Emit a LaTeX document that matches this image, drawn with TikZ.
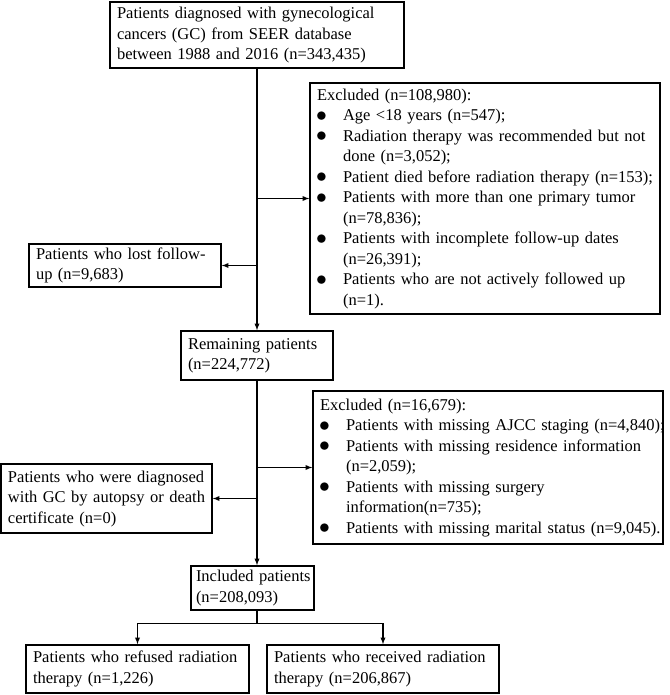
\documentclass[tikz,border=0pt]{standalone}
\usepackage{fontspec}
\setmainfont{Liberation Serif}
\usepackage{tikz}
\usetikzlibrary{positioning}
\newcommand{\boxlines}[1]{\begin{tabular}{@{}l@{}}#1\end{tabular}}
\newcommand{\bul}{\makebox[26pt][l]{\hspace{-1pt}\raisebox{-0.8pt}{\scalebox{1.25}{$\bullet$}}}}
\newcommand{\ind}{\hspace*{26pt}}

\begin{document}
\begin{tikzpicture}[x=1pt, y=1pt, >=latex,
  every node/.style={font=\fontsize{16.5}{20.5}\selectfont},
  box/.style={draw, rectangle, line width=1.4pt, inner xsep=7pt, inner ysep=0pt, align=left},
  link/.style={->, line width=1.3pt}]
\useasboundingbox (0,0) rectangle (669,695);
\node at (257,660) [box, name=Source, text width=280pt, minimum height=66pt]{\boxlines{Patients diagnosed with gynecological\\cancers (GC) from SEER database\\between 1988 and 2016 (n=343,435)}};
\node at (485,496.5) [box, name=Excluded1, text width=336pt, minimum height=231pt]{\boxlines{Excluded (n=108,980):\\
\bul Age <18 years (n=547);\\
\bul Radiation therapy was recommended but not\\
\ind done (n=3,052);\\
\bul Patient died before radiation therapy (n=153);\\
\bul Patients with more than one primary tumor\\
\ind (n=78,836);\\
\bul Patients with incomplete follow-up dates\\
\ind (n=26,391);\\
\bul Patients who are not actively followed up\\
\ind (n=1).}};
\node at (125,429.5) [box, name=LostFollow, text width=178pt, minimum height=43pt]{\boxlines{Patients who lost follow-\\up (n=9,683)}};
\node at (257,339.5) [box, name=Remaining, text width=138pt, minimum height=49pt]{\boxlines{Remaining patients\\(n=224,772)}};
\node at (488,227.5) [box, name=Excluded2, text width=336pt, minimum height=153pt]{\boxlines{Excluded (n=16,679):\\
\bul Patients with missing AJCC staging (n=4,840);\\
\bul Patients with missing residence information\\
\ind (n=2,059);\\
\bul Patients with missing surgery\\
\ind information(n=735);\\
\bul Patients with missing marital status (n=9,045).}};
\node at (106.5,196.5) [box, name=Autopsy, text width=197pt, minimum height=69pt]{\boxlines{Patients who were diagnosed\\with GC by autopsy or death\\certificate (n=0)}};
\node at (252.5,107) [box, name=Included, text width=113pt, inner xsep=5pt, minimum height=44pt]{\boxlines{Included patients\\(n=208,093)}};
\node at (137.5,26) [box, name=Refused, text width=209pt, minimum height=48pt]{\boxlines{Patients who refused radiation\\therapy (n=1,226)}};
\node at (383,26) [box, name=Received, text width=218pt, minimum height=48pt]{\boxlines{Patients who received radiation\\therapy (n=206,867)}};
% main trunk
\draw [link] (Source) -- (Remaining);
\draw [link] (Excluded1.west -| Source.south) -- (Excluded1.west);
\draw [link] (LostFollow.east -| Source.south) -- (LostFollow.east);
\draw [link] (Remaining) -- (Remaining.south |- Included.north);
\draw [link] (Excluded2.west -| Remaining.south) -- (Excluded2.west);
\draw [link] (Autopsy.east -| Remaining.south) -- (Autopsy.east);
% split into the two groups
\draw [line width=1.3pt] (Remaining.south |- Included.south) -- ++(0,-13) coordinate (Split);
\draw [link] (Split) -| (Refused.north);
\draw [link] (Split) -| (Received.north);
\end{tikzpicture}
\end{document}
